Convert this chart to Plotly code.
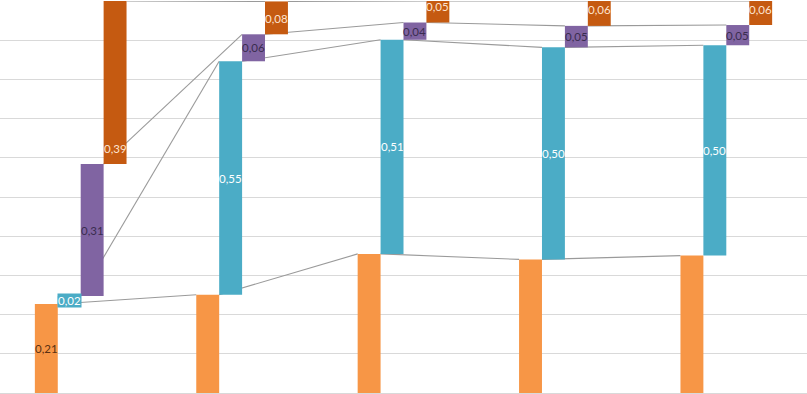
import plotly.graph_objects as go

# ---- data ----
groups = ["G1", "G2", "G3", "G4", "G5"]
series_names = ["S1", "S2", "S3", "S4"]
s1_values = [0.211, 0.233, 0.330, 0.317, 0.326]   # orange (base)
s2_values = [0.019, 0.554, 0.508, 0.503, 0.499]   # blue
s3_values = [0.313, 0.064, 0.041, 0.051, 0.048]   # purple
s4_values = [0.387, 0.078, 0.051, 0.059, 0.057]   # dark orange
show_s1_label = [True, False, False, False, False]
y_max = 0.93

colors = ["#F79646", "#4BACC6", "#8064A2", "#C55A11"]
label_colors = ["#5a3012", "#ffffff", "#3a2c4f", "#fde4d0"]

series = [s1_values, s2_values, s3_values, s4_values]

# bar geometry within each category slot
w = 0.142
offsets = [-1.5 * w, -0.5 * w, 0.5 * w, 1.5 * w]

n = len(groups)
bases = []
running = [0.0] * n
for vals in series:
    bases.append(list(running))
    running = [r + v for r, v in zip(running, vals)]

fig = go.Figure()

for k, vals in enumerate(series):
    xs = [i + 0.5 + offsets[k] for i in range(n)]
    fig.add_trace(go.Bar(
        x=xs, y=vals, base=bases[k], width=w,
        marker=dict(color=colors[k], line=dict(width=0)),
        name=series_names[k], hoverinfo="skip", showlegend=False,
    ))

# series lines connecting tops of each series between neighbouring groups
shapes = []
for k, vals in enumerate(series):
    tops = [b + v for b, v in zip(bases[k], vals)]
    for i in range(n - 1):
        shapes.append(dict(
            type="line", xref="x", yref="y", layer="between",
            x0=i + 0.5 + offsets[k] + w / 2, y0=tops[i],
            x1=i + 1.5 + offsets[k] - w / 2, y1=tops[i + 1],
            line=dict(color="#9a9a9a", width=1.1),
        ))

def fmt(v):
    return f"{v:.2f}".replace(".", ",")

annotations = []
for k, vals in enumerate(series):
    for i in range(n):
        if k == 0 and not show_s1_label[i]:
            continue
        x = i + 0.5 + offsets[k]
        if k == 3:
            y = bases[k][i]
            yshift = 16
        else:
            y = bases[k][i] + vals[i] / 2
            yshift = 0
        ann = dict(
            x=x, y=y, xref="x", yref="y", text=fmt(vals[i]),
            showarrow=False, yshift=yshift,
            font=dict(family="Lato", size=11.5, color=label_colors[k]),
        )
        if k == 1 and vals[i] < 0.05:
            ann.update(bgcolor=colors[1], borderpad=0)
        annotations.append(ann)

fig.update_layout(
    width=807, height=394,
    margin=dict(l=0, r=0, t=1, b=1),
    paper_bgcolor="white", plot_bgcolor="white",
    barmode="overlay",
    shapes=shapes, annotations=annotations,
    xaxis=dict(range=[0, n], showgrid=False, zeroline=False,
               showticklabels=False, ticks="", fixedrange=True),
    yaxis=dict(range=[0, y_max], tickvals=[round(y_max * j / 10, 4) for j in range(11)],
               showgrid=True, gridcolor="#d9d9d9", gridwidth=1,
               zeroline=True, zerolinecolor="#d9d9d9", zerolinewidth=1,
               showticklabels=False, ticks="", fixedrange=True),
)

fig.write_html("out.html", config={"displayModeBar": False},
               post_script="document.body.style.margin='0';")
